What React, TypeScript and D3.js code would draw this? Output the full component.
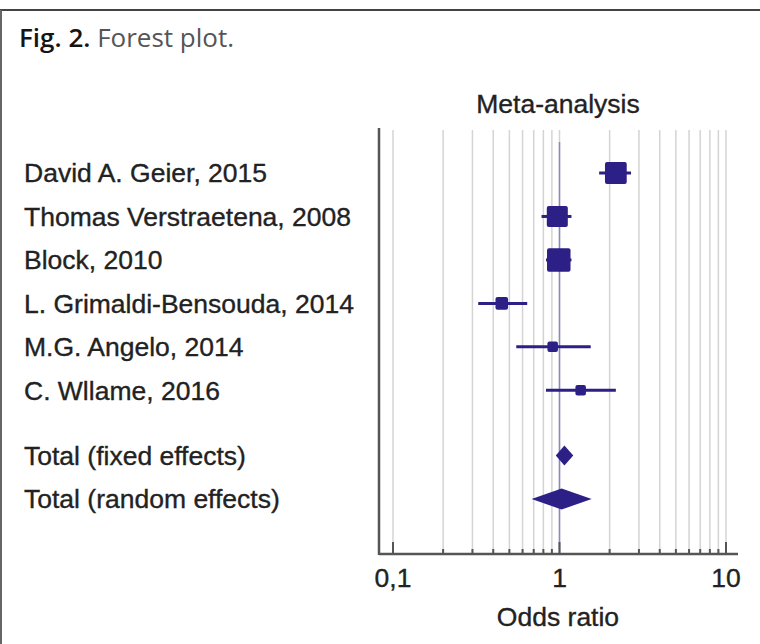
import React, { useEffect, useRef } from 'react';
import * as d3 from 'd3';

// study data (odds ratio, 95% CI, weight %)
const studies = [
  'David A. Geier, 2015',
  'Thomas Verstraetena, 2008',
  'Block, 2010',
  'L. Grimaldi-Bensouda, 2014',
  'M.G. Angelo, 2014',
  'C. Wllame, 2016',
];
const oddsRatio = [2.18, 0.97, 0.99, 0.45, 0.91, 1.34];
const ciLower = [1.73, 0.78, 0.83, 0.325, 0.55, 0.83];
const ciUpper = [2.69, 1.18, 1.18, 0.64, 1.54, 2.18];
const weights = [30, 28, 35, 10, 7, 7];

const totals = ['Total (fixed effects)', 'Total (random effects)'];
const totalOR = [1.07, 1.03];
const totalLower = [0.95, 0.68];
const totalUpper = [1.21, 1.56];

const majorTicks = [0.1, 1, 10];
const tickLabels = ['0,1', '1', '10'];
const gridValues = [0.1, 0.2, 0.3, 0.4, 0.5, 0.6, 0.7, 0.8, 0.9, 1, 2, 3, 4, 5, 6, 7, 8, 9, 10];

const ink = '#2c1f86';
const labelFont = 'Liberation Sans, Arial, sans-serif';

const App = () => {
  const svgRef = useRef<SVGSVGElement>(null);

  useEffect(() => {
    const width = 760;
    const height = 644;
    svgRef.current!.innerHTML = '';

    const svg = d3.select(svgRef.current)
      .attr('width', width)
      .attr('height', height);

    svg.append('rect').attr('width', width).attr('height', height).attr('fill', '#fff');

    // frame
    svg.append('line').attr('x1', 0).attr('x2', width).attr('y1', 10).attr('y2', 10)
      .attr('stroke', '#444').attr('stroke-width', 2);
    svg.append('line').attr('x1', 1).attr('x2', 1).attr('y1', 10).attr('y2', height)
      .attr('stroke', '#666').attr('stroke-width', 2);

    // caption
    const cap = svg.append('text')
      .attr('x', 19).attr('y', 47)
      .attr('font-family', 'Open Sans, sans-serif')
      .attr('font-size', 26);
    cap.append('tspan').attr('fill', '#151515').attr('font-weight', 600).text('Fig. 2.');
    cap.append('tspan').attr('fill', '#555').text(' Forest plot.');

    const x = d3.scaleLog().domain([0.1, 10]).range([393, 726]);
    const axisLeft = 379;
    const axisRight = 738;
    const y = d3.scaleLinear().domain([0, 7.5]).range([173, 499]);
    const size = d3.scaleSqrt().domain([0, 35]).range([0, 23.5]);
    const plotTop = 128;
    const plotBottom = 554;

    // grid
    svg.append('g')
      .selectAll('line')
      .data(gridValues)
      .enter()
      .append('line')
      .attr('x1', d => x(d)).attr('x2', d => x(d))
      .attr('y1', 130).attr('y2', plotBottom)
      .attr('stroke', '#d4d4d4')
      .attr('stroke-width', 1.5);

    // no-effect line
    svg.append('line')
      .attr('x1', x(1)).attr('x2', x(1))
      .attr('y1', 142).attr('y2', plotBottom)
      .attr('stroke', '#8a88c4')
      .attr('stroke-width', 1.5);

    // axes
    svg.append('line').attr('x1', axisLeft).attr('x2', axisLeft)
      .attr('y1', plotTop).attr('y2', plotBottom + 1)
      .attr('stroke', '#555').attr('stroke-width', 2.5);
    svg.append('line').attr('x1', axisLeft).attr('x2', axisRight)
      .attr('y1', plotBottom).attr('y2', plotBottom)
      .attr('stroke', '#555').attr('stroke-width', 2.5);

    svg.append('g')
      .selectAll('line')
      .data(gridValues)
      .enter()
      .append('line')
      .attr('x1', d => x(d)).attr('x2', d => x(d))
      .attr('y1', d => majorTicks.includes(d) ? plotBottom - 12 : plotBottom - 5)
      .attr('y2', plotBottom)
      .attr('stroke', '#555')
      .attr('stroke-width', 2);

    const textStyle = (sel: any) => sel
      .attr('font-family', labelFont)
      .attr('font-size', 26.5)
      .attr('fill', '#222')
      .attr('stroke', '#222')
      .attr('stroke-width', 0.35);

    svg.append('g')
      .selectAll('text')
      .data(majorTicks)
      .enter()
      .append('text')
      .attr('x', d => x(d))
      .attr('y', 587)
      .attr('text-anchor', 'middle')
      .call(textStyle)
      .text((d, i) => tickLabels[i]);

    svg.append('text')
      .attr('x', 558).attr('y', 626)
      .attr('text-anchor', 'middle')
      .call(textStyle)
      .text('Odds ratio');

    svg.append('text')
      .attr('x', 558).attr('y', 113)
      .attr('text-anchor', 'middle')
      .call(textStyle)
      .text('Meta-analysis');

    // row labels
    const rowIndex = [0, 1, 2, 3, 4, 5];
    const totalIndex = [6.5, 7.5];
    svg.append('g')
      .selectAll('text')
      .data([...studies, ...totals])
      .enter()
      .append('text')
      .attr('x', 24)
      .attr('y', (d, i) => y(i < 6 ? rowIndex[i] : totalIndex[i - 6]))
      .attr('dy', '0.35em')
      .call(textStyle)
      .text(d => d);

    // confidence intervals
    svg.append('g')
      .selectAll('line')
      .data(studies)
      .enter()
      .append('line')
      .attr('x1', (d, i) => x(ciLower[i]))
      .attr('x2', (d, i) => x(ciUpper[i]))
      .attr('y1', (d, i) => y(rowIndex[i]))
      .attr('y2', (d, i) => y(rowIndex[i]))
      .attr('stroke', ink)
      .attr('stroke-width', 3);

    // weighted squares
    svg.append('g')
      .selectAll('rect')
      .data(studies)
      .enter()
      .append('rect')
      .attr('x', (d, i) => x(oddsRatio[i]) - size(weights[i]) / 2)
      .attr('y', (d, i) => y(rowIndex[i]) - size(weights[i]) / 2)
      .attr('width', (d, i) => size(weights[i]))
      .attr('height', (d, i) => size(weights[i]))
      .attr('rx', 2)
      .attr('fill', ink);

    // pooled diamonds
    const diamondH = [20, 21];
    svg.append('g')
      .selectAll('path')
      .data(totals)
      .enter()
      .append('path')
      .attr('d', (d, i) => {
        const cy = y(totalIndex[i]);
        const h = diamondH[i] / 2;
        return `M${x(totalLower[i])},${cy}L${x(totalOR[i])},${cy - h}L${x(totalUpper[i])},${cy}L${x(totalOR[i])},${cy + h}Z`;
      })
      .attr('fill', ink);
  }, []);

  return (
    <svg ref={svgRef} style={{ position: 'absolute', left: 0, top: 0, display: 'block' }}></svg>
  );
};

export default App;
